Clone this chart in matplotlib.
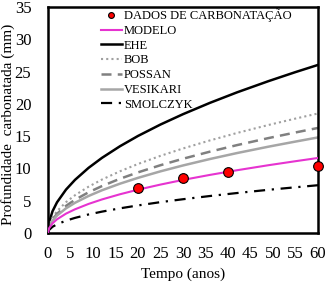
import matplotlib
matplotlib.use('Agg')
import matplotlib.pyplot as plt

plt.rcParams['font.family'] = ['Liberation Serif', 'DejaVu Serif']

# Carbonation measurements
t_dados = [20, 30, 40, 60]
x_dados = [7.0, 8.5, 9.5, 10.4]

# Model curves (depth in mm vs time in years)
t_curva = [0, 0.25, 1, 2, 4, 6, 9, 12, 16, 20, 25, 30, 36, 42, 49, 55, 60]
modelo = [0, 0.75, 1.5, 2.12, 3.0, 3.67, 4.5, 5.2, 6.0, 6.71, 7.5, 8.22, 9.0, 9.72, 10.5, 11.12, 11.62]
ehe = [0, 1.68, 3.36, 4.75, 6.72, 8.23, 10.08, 11.64, 13.44, 15.03, 16.8, 18.4, 20.16, 21.78, 23.52, 24.92, 26.03]
bob = [0, 1.2, 2.39, 3.38, 4.78, 5.85, 7.17, 8.28, 9.56, 10.69, 11.95, 13.09, 14.34, 15.49, 16.73, 17.72, 18.51]
possan = [0, 1.05, 2.1, 2.97, 4.2, 5.14, 6.3, 7.27, 8.4, 9.39, 10.5, 11.5, 12.6, 13.61, 14.7, 15.57, 16.27]
vesikari = [0, 0.96, 1.91, 2.7, 3.82, 4.68, 5.73, 6.62, 7.64, 8.54, 9.55, 10.46, 11.46, 12.38, 13.37, 14.16, 14.8]
smolczyk = [0, 0.48, 0.96, 1.35, 1.91, 2.34, 2.87, 3.31, 3.82, 4.27, 4.78, 5.23, 5.73, 6.19, 6.69, 7.08, 7.4]

fig = plt.figure(figsize=(3.26, 2.85), dpi=100)
ax = fig.add_axes([48 / 326, 1 - 233 / 285, 270 / 326, 226 / 285])

ax.plot(t_curva, modelo, color='#e633d0', lw=1.5, label='MODELO', zorder=3)
ax.plot(t_curva, ehe, color='black', lw=1.8, label='EHE')
ax.plot(t_curva, bob, color='#a0a0a0', lw=1.5, ls=(0, (1, 1.5)), label='BOB')
ax.plot(t_curva, possan, color='#808080', lw=1.8, ls=(0, (4, 2.5)), label='POSSAN')
ax.plot(t_curva, vesikari, color='#a6a6a6', lw=1.8, label='VESIKARI')
ax.plot(t_curva, smolczyk, color='black', lw=1.6, ls=(0, (5, 3, 1, 3)), label='SMOLCZYK')
ax.plot(t_dados, x_dados, 'o', color='red', mec='black', mew=0.8, ms=7,
        label='DADOS DE CARBONATAÇÃO', zorder=5, clip_on=False)

ax.set_xlim(0, 60)
ax.set_ylim(0, 35)
ax.set_xticks(range(0, 61, 5))
ax.set_yticks(range(0, 36, 5))
ax.tick_params(length=0, labelsize=12)
ax.tick_params(axis='x', pad=9.5)
ax.tick_params(axis='y', pad=12)
for s in ax.spines.values():
    s.set_linewidth(1.8)

ax.set_xlabel('Tempo (anos)', fontsize=11, labelpad=4)
ax.set_ylabel('Profundidade  carbonatada (mm)', fontsize=11)
ax.yaxis.set_label_coords(-0.122, 0.48)

handles, labels = ax.get_legend_handles_labels()
order = [6, 0, 1, 2, 3, 4, 5]
leg = ax.legend([handles[i] for i in order], [labels[i] for i in order],
                loc='upper left', bbox_to_anchor=(0.19, 1.0), frameon=False,
                fontsize=9, handlelength=1.75, handletextpad=0.1,
                labelspacing=0.22, borderaxespad=0, borderpad=0.1, markerscale=0.6)

plt.savefig('out.png', dpi=100)
